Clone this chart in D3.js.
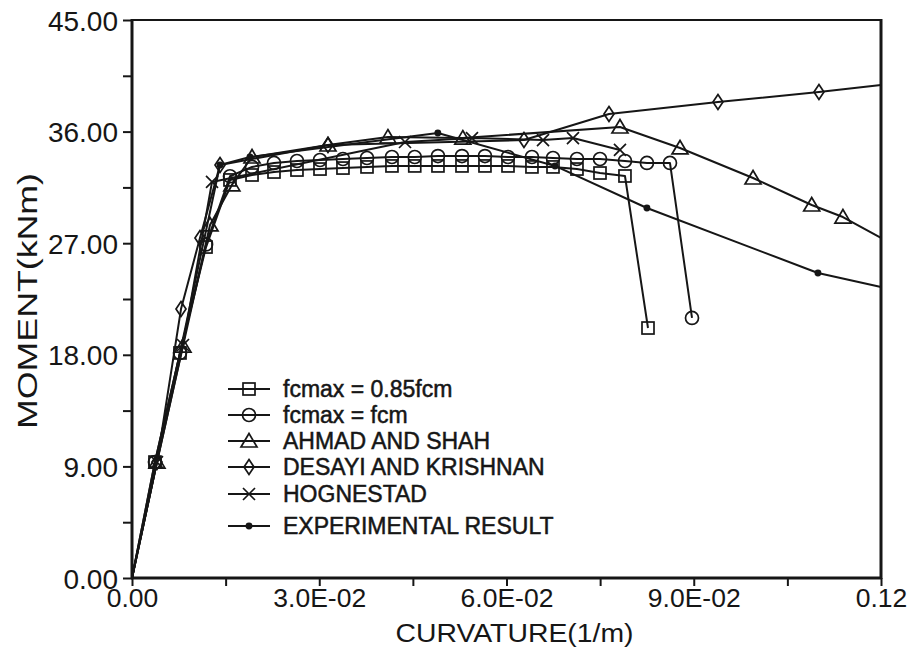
<!DOCTYPE html>
<html>
<head>
<meta charset="utf-8">
<script src="https://cdn.jsdelivr.net/npm/d3@7"></script>
<style>
  body { margin: 0; background: #fff; }
  svg { display: block; font-family: "Liberation Sans", Arial, Helvetica, sans-serif; }
</style>
</head>
<body>
<svg id="chart" width="917" height="667"></svg>
<script>
// Moment–curvature results: [curvature (1/m), moment (kNm)]
const fcm085 = [
  [0, 0], [0.00368, 9.35], [0.00769, 18.15], [0.01186, 26.69], [0.0157, 32.10],
  [0.01923, 32.50], [0.02275, 32.74], [0.02643, 32.90], [0.03012, 32.98],
  [0.0338, 33.06], [0.03765, 33.15], [0.04165, 33.23], [0.0453, 33.23],
  [0.04902, 33.23], [0.05287, 33.23], [0.05655, 33.23], [0.06024, 33.23],
  [0.06408, 33.15], [0.06745, 33.15], [0.07129, 32.98], [0.07498, 32.66],
  [0.07898, 32.42], [0.08267, 20.16]
];
const fcmEqual = [
  [0, 0], [0.00368, 9.35], [0.00769, 18.15], [0.01186, 26.9], [0.0157, 32.4],
  [0.01923, 33.15], [0.02275, 33.47], [0.02643, 33.63], [0.03012, 33.71],
  [0.0338, 33.79], [0.03765, 33.87], [0.04165, 33.95], [0.0453, 33.95],
  [0.04902, 34.03], [0.05287, 34.03], [0.05655, 34.03], [0.06024, 33.95],
  [0.06408, 33.95], [0.06745, 33.87], [0.07129, 33.79], [0.07498, 33.79],
  [0.07898, 33.63], [0.0825, 33.47], [0.08619, 33.47], [0.08972, 20.97]
];
const ahmadShah = [
  [0, 0], [0.004, 9.35], [0.00817, 18.7], [0.0125, 28.47], [0.016, 31.7],
  [0.01923, 33.95], [0.0314, 34.92], [0.041, 35.56], [0.053, 35.48],
  [0.07818, 36.37], [0.0878, 34.68], [0.0995, 32.26], [0.1089, 30.08],
  [0.1139, 29.11], [0.12, 27.42]
];
const desayiKrishnan = [
  [0, 0], [0.004, 9.35], [0.00785, 21.69], [0.01089, 27.42], [0.0141, 33.31],
  [0.0314, 34.92], [0.0628, 35.32], [0.07642, 37.42], [0.09388, 38.39],
  [0.11006, 39.19], [0.12, 39.76]
];
const hognestad = [
  [0, 0], [0.004, 9.35], [0.00817, 18.79], [0.01282, 31.94], [0.04374, 35.16],
  [0.05447, 35.48], [0.06585, 35.32], [0.07065, 35.48], [0.07818, 34.52]
];
const experimental = [
  [0, 0], [0.0141, 33.31], [0.0189, 33.95], [0.049, 35.89], [0.06777, 33.23],
  [0.0825, 29.84], [0.1099, 24.6], [0.12, 23.47]
];

const seriesLabels = [
  "fcmax = 0.85fcm", "fcmax = fcm", "AHMAD AND SHAH",
  "DESAYI AND KRISHNAN", "HOGNESTAD", "EXPERIMENTAL RESULT"
];
const seriesMarkers = ["square", "circle", "triangle", "diamond", "cross", "dot"];
const seriesData = [fcm085, fcmEqual, ahmadShah, desayiKrishnan, hognestad, experimental];

const xMajorTicks = [0, 0.03, 0.06, 0.09, 0.12];
const xMajorLabels = ["0.00", "3.0E-02", "6.0E-02", "9.0E-02", "0.12"];
const xMinorTicks = [0.015, 0.045, 0.075, 0.105];
const yMajorTicks = [0, 9, 18, 27, 36, 45];
const yMajorLabels = ["0.00", "9.00", "18.00", "27.00", "36.00", "45.00"];
const yMinorTicks = [4.5, 13.5, 22.5, 31.5, 40.5];

const ink = "#161616";
const svg = d3.select("#chart");
const plotLeft = 132, plotRight = 881, plotTop = 20, plotBottom = 578;

const x = d3.scaleLinear().domain([0, 0.12]).range([plotLeft, plotRight]);
const y = d3.scaleLinear().domain([0, 45]).range([plotBottom, plotTop]);

svg.append("rect").attr("width", 917).attr("height", 667).attr("fill", "#fff");

// axes with major and minor ticks
const xLabelOf = d => { const i = xMajorTicks.findIndex(v => Math.abs(v - d) < 1e-9); return i >= 0 ? xMajorLabels[i] : ""; };
const yLabelOf = d => { const i = yMajorTicks.findIndex(v => Math.abs(v - d) < 1e-9); return i >= 0 ? yMajorLabels[i] : ""; };

const xAxis = svg.append("g")
  .attr("transform", `translate(0,${plotBottom})`)
  .call(d3.axisBottom(x).tickValues(xMajorTicks.concat(xMinorTicks).sort((a, b) => a - b))
    .tickFormat(xLabelOf).tickSize(8).tickSizeOuter(0).tickPadding(2));
const yAxis = svg.append("g")
  .attr("transform", `translate(${plotLeft},0)`)
  .call(d3.axisLeft(y).tickValues(yMajorTicks.concat(yMinorTicks).sort((a, b) => a - b))
    .tickFormat(yLabelOf).tickSize(9).tickSizeOuter(0).tickPadding(5));

[xAxis, yAxis].forEach(g => {
  g.select(".domain").remove();
  g.selectAll("line").attr("stroke", ink).attr("stroke-width", 2);
  g.selectAll("text").attr("fill", ink).attr("font-size", 28);
});
xAxis.selectAll("text").attr("font-size", 26.5).attr("dy", "0.72em");
yAxis.selectAll("text").attr("dy", "0.36em");

// plot frame
const frame = svg.append("g").attr("stroke", ink).attr("fill", "none");
frame.append("line").attr("x1", plotLeft).attr("x2", plotLeft).attr("y1", plotTop - 1).attr("y2", plotBottom + 1).attr("stroke-width", 3);
frame.append("line").attr("x1", plotLeft - 1).attr("x2", plotRight + 1).attr("y1", plotBottom).attr("y2", plotBottom).attr("stroke-width", 3);
frame.append("line").attr("x1", plotLeft).attr("x2", plotRight).attr("y1", plotTop).attr("y2", plotTop).attr("stroke-width", 2);
frame.append("line").attr("x1", plotRight).attr("x2", plotRight).attr("y1", plotTop - 1).attr("y2", plotBottom + 1).attr("stroke-width", 3);

// axis titles
svg.append("text").attr("x", (plotLeft + plotRight) / 2 + 8).attr("y", 642)
  .attr("text-anchor", "middle").attr("font-size", 26).attr("fill", ink)
  .attr("textLength", 238).attr("lengthAdjust", "spacingAndGlyphs")
  .text("CURVATURE(1/m)");
svg.append("text").attr("transform", `translate(37,${(plotTop + plotBottom) / 2 + 2}) rotate(-90)`)
  .attr("text-anchor", "middle").attr("font-size", 28).attr("fill", ink)
  .attr("textLength", 256).attr("lengthAdjust", "spacingAndGlyphs")
  .text("MOMENT(kNm)");

// marker drawing
function drawMarker(g, type) {
  if (type === "square") g.append("rect").attr("x", -6).attr("y", -6).attr("width", 12).attr("height", 12);
  else if (type === "circle") g.append("circle").attr("r", 6.5);
  else if (type === "triangle") g.append("path").attr("d", "M0,-7.5L8,6L-8,6Z");
  else if (type === "diamond") g.append("path").attr("d", "M0,-7.5L5,0L0,7.5L-5,0Z");
  else if (type === "cross") g.append("path").attr("d", "M-6,-6L6,6M-6,6L6,-6");
  else if (type === "dot") g.append("circle").attr("r", 2.6).attr("fill", ink);
}

const line = d3.line().x(d => x(d[0])).y(d => y(d[1]));
const plot = svg.append("g");

seriesData.forEach((data, i) => {
  plot.append("path").datum(data).attr("d", line)
    .attr("fill", "none").attr("stroke", ink).attr("stroke-width", 2).attr("stroke-linejoin", "round");
  const pts = data.filter(d => d[0] > 0 && d[0] < 0.12);
  pts.forEach(d => {
    const g = plot.append("g").attr("transform", `translate(${x(d[0])},${y(d[1])})`)
      .attr("fill", "none").attr("stroke", ink).attr("stroke-width", 1.7);
    drawMarker(g, seriesMarkers[i]);
  });
});

// legend
const legendRows = [389, 415, 441, 467, 494, 526];
const legend = svg.append("g");
seriesLabels.forEach((label, i) => {
  const ly = legendRows[i];
  legend.append("line").attr("x1", 228).attr("x2", 270).attr("y1", ly).attr("y2", ly)
    .attr("stroke", ink).attr("stroke-width", 2);
  const g = legend.append("g").attr("transform", `translate(249,${ly})`)
    .attr("fill", "none").attr("stroke", ink).attr("stroke-width", 1.7);
  drawMarker(g, seriesMarkers[i]);
  legend.append("text").attr("x", 283).attr("y", ly).attr("dy", "0.36em")
    .attr("font-size", 23).attr("fill", ink)
    .attr("stroke", ink).attr("stroke-width", 0.5)
    .text(label);
});
</script>
</body>
</html>
